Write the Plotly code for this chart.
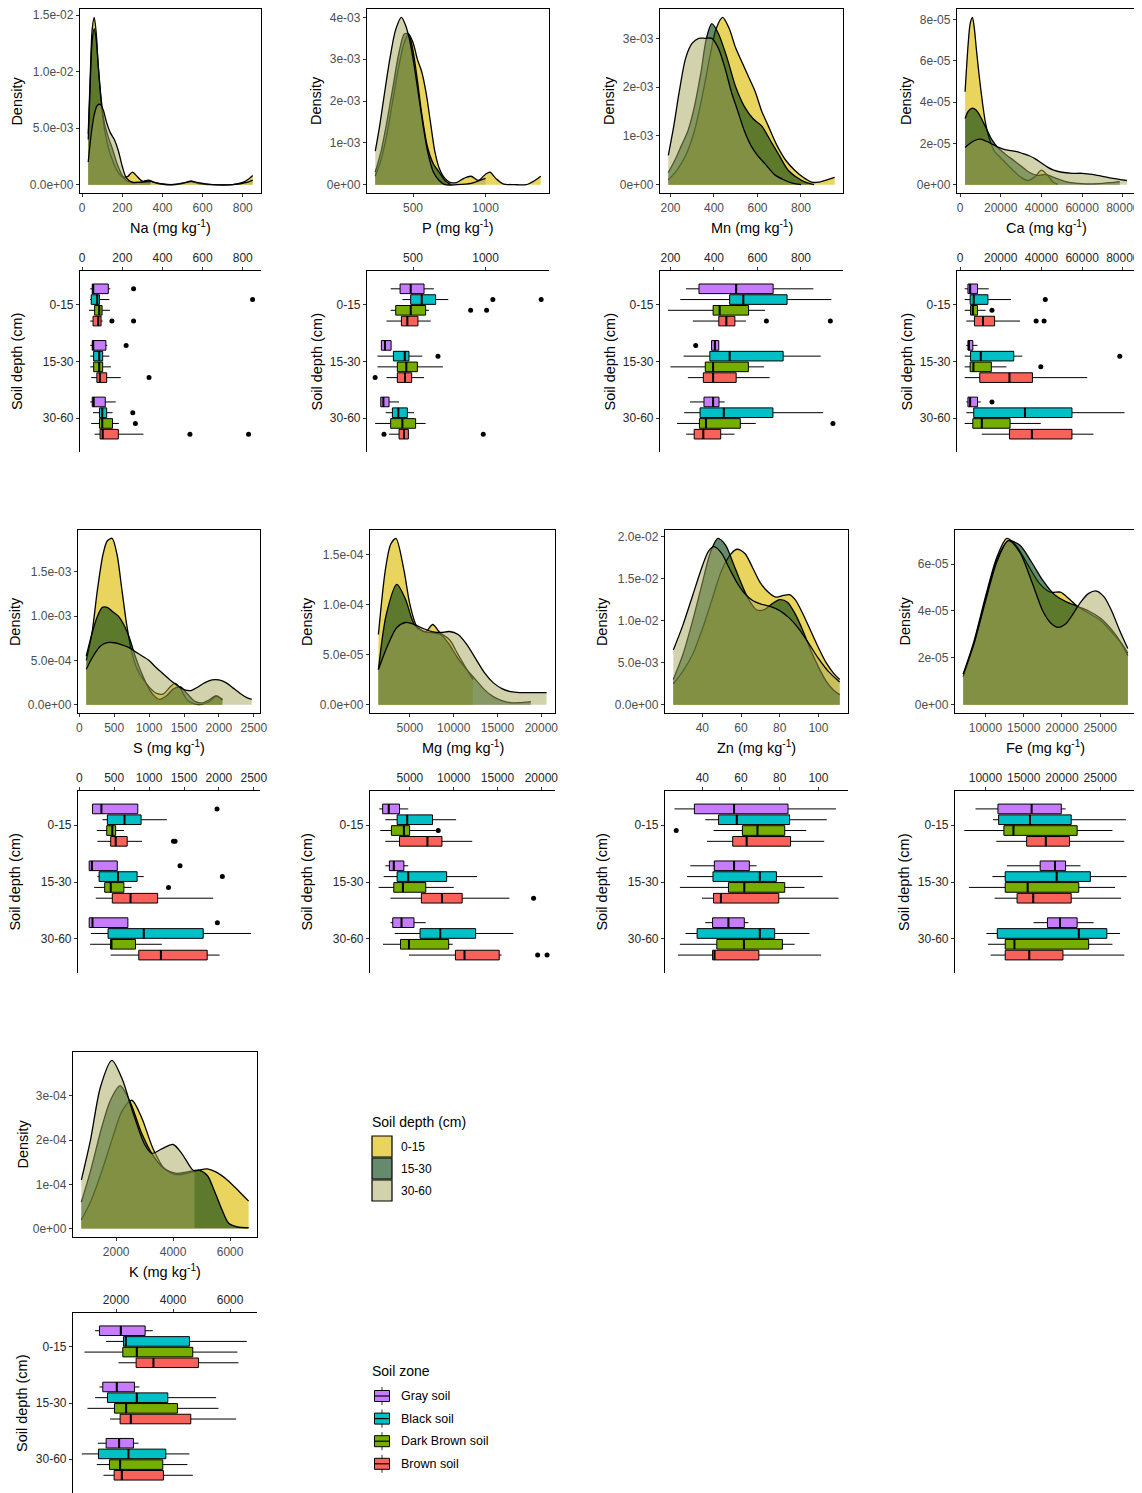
import plotly.graph_objects as go

W, H = 1142, 1493          # target picture size
PAGE_OFF = 8               # browser body margin around the plot div
FW, FH = W - PAGE_OFF, H - PAGE_OFF

DEPTHS = ["0-15", "15-30", "30-60"]
ZONES = ["Gray soil", "Black soil", "Dark Brown soil", "Brown soil"]
ELEMENTS = ["Na", "P", "Mn", "Ca", "S", "Mg", "Zn", "Fe", "K"]

# ---------------- density curves (x in mg/kg, y density) ----------------
na_d1_x = [30, 40, 50, 60, 70, 80, 95, 110, 130, 150, 175, 200, 225, 250, 275, 300, 330, 360, 420, 500, 540, 580, 650, 750, 800, 830, 850]
na_d1_y = [0.0045, 0.0096, 0.0138, 0.0148, 0.0134, 0.0105, 0.0072, 0.0050, 0.0033, 0.0022, 0.0012, 0.0007, 0.0007, 0.0011, 0.0007, 0.0003, 0.0004, 0.0002, 0.0, 0.0001, 0.0003, 0.0001, 0.0, 0.0, 0.0002, 0.0005, 0.0008]
na_d2_x = [30, 40, 50, 60, 70, 80, 95, 110, 130, 150, 175, 200, 225, 260, 300, 340]
na_d2_y = [0.0040, 0.0090, 0.0128, 0.0138, 0.0128, 0.0105, 0.0075, 0.0055, 0.0042, 0.0032, 0.0018, 0.0008, 0.0003, 0.0002, 0.0002, 0.0002]
na_d3_x = [30, 45, 60, 75, 90, 105, 120, 140, 160, 180, 200, 220, 250, 280, 320, 340, 380, 450, 520, 545, 570, 650, 750, 820, 850]
na_d3_y = [0.0020, 0.0045, 0.0062, 0.0070, 0.0071, 0.0066, 0.0056, 0.0046, 0.0040, 0.0030, 0.0016, 0.0006, 0.0002, 0.0002, 0.0003, 0.0003, 0.0001, 0.0, 0.0002, 0.0003, 0.0002, 0.0, 0.0, 0.0002, 0.0004]

p_d1_x = [240, 280, 320, 360, 400, 440, 470, 500, 530, 560, 590, 620, 650, 680, 720, 760, 800, 850, 900, 950, 1000, 1030, 1070, 1120, 1200, 1280, 1340, 1380]
p_d1_y = [0.0002, 0.0006, 0.0012, 0.0020, 0.0028, 0.0034, 0.0036, 0.0034, 0.0030, 0.0027, 0.0022, 0.0015, 0.0008, 0.0004, 0.00015, 0.00005, 0.00005, 0.00015, 0.0002, 0.0001, 0.00025, 0.0003, 0.00015, 0.00002, 0.0, 0.0, 0.0001, 0.0002]
p_d2_x = [240, 280, 320, 360, 400, 440, 470, 500, 530, 560, 600, 640, 680, 720, 760]
p_d2_y = [0.0003, 0.0008, 0.0015, 0.0023, 0.0031, 0.0036, 0.0036, 0.0032, 0.0025, 0.0017, 0.0009, 0.0005, 0.0003, 0.0001, 0.0]
p_d3_x = [240, 270, 300, 340, 380, 420, 450, 480, 510, 540, 570, 600, 640, 680, 720, 800, 900, 960, 1000]
p_d3_y = [0.0008, 0.0014, 0.0021, 0.0030, 0.0037, 0.0040, 0.0038, 0.0034, 0.0028, 0.0021, 0.0014, 0.0008, 0.0003, 0.0001, 0.0, 0.0, 0.00003, 0.0001, 0.00015]

mn_d1_x = [190, 230, 270, 310, 350, 380, 410, 440, 470, 500, 530, 560, 590, 620, 650, 690, 730, 770, 810, 850, 880, 920, 955]
mn_d1_y = [0.0001, 0.0003, 0.0006, 0.0011, 0.0019, 0.0026, 0.0032, 0.00343, 0.0032, 0.0028, 0.0025, 0.0022, 0.0019, 0.0015, 0.0012, 0.0008, 0.0005, 0.0003, 0.00015, 0.00005, 0.00005, 0.0001, 0.00015]
mn_d2_x = [190, 220, 250, 280, 310, 340, 365, 390, 420, 460, 500, 540, 580, 620, 660, 700, 740, 780, 820, 860]
mn_d2_y = [0.00025, 0.0005, 0.0008, 0.0011, 0.0016, 0.0023, 0.0030, 0.0033, 0.0031, 0.0026, 0.0020, 0.0016, 0.00135, 0.0012, 0.0009, 0.0006, 0.0003, 0.00015, 0.00005, 0.0]
mn_d3_x = [190, 215, 240, 270, 300, 330, 360, 390, 420, 450, 480, 510, 540, 570, 600, 640, 680, 720, 760, 800]
mn_d3_y = [0.0006, 0.0012, 0.0019, 0.0026, 0.0029, 0.0030, 0.0030, 0.0030, 0.0028, 0.0024, 0.0019, 0.0015, 0.0011, 0.0008, 0.0006, 0.0004, 0.0002, 0.0001, 0.00003, 0.0]

ca_d1_x = [2500, 4000, 5000, 6100, 7000, 8000, 9500, 11000, 12500, 14500, 17000, 19000, 22000, 26000, 30000, 33500, 37000, 40000, 43000, 46000, 48000]
ca_d1_y = [4.5e-5, 6.8e-5, 7.8e-5, 8.1e-5, 7.6e-5, 6.6e-5, 5.2e-5, 4.0e-5, 3.0e-5, 2.2e-5, 1.6e-5, 1.4e-5, 1.1e-5, 0.7e-5, 0.35e-5, 0.2e-5, 0.4e-5, 0.7e-5, 0.45e-5, 0.1e-5, 0.03e-5]
ca_d2_x = [2500, 4000, 6000, 8000, 10000, 12500, 15500, 18500, 22000, 26000, 30000, 34000, 38000, 42000, 46000, 52000, 60000, 68000, 74000, 78500]
ca_d2_y = [3.2e-5, 3.55e-5, 3.7e-5, 3.6e-5, 3.3e-5, 2.8e-5, 2.2e-5, 1.8e-5, 1.5e-5, 1.2e-5, 0.9e-5, 0.6e-5, 0.45e-5, 0.5e-5, 0.35e-5, 0.15e-5, 0.05e-5, 0.05e-5, 0.1e-5, 0.15e-5]
ca_d3_x = [2500, 5000, 7500, 10000, 13000, 16000, 19000, 22000, 25000, 28000, 31000, 34000, 37000, 40000, 43000, 46000, 50000, 55000, 60000, 65000, 70000, 75000, 82000]
ca_d3_y = [1.8e-5, 2.0e-5, 2.15e-5, 2.2e-5, 2.1e-5, 1.95e-5, 1.8e-5, 1.7e-5, 1.65e-5, 1.6e-5, 1.5e-5, 1.4e-5, 1.25e-5, 1.05e-5, 0.85e-5, 0.7e-5, 0.6e-5, 0.55e-5, 0.55e-5, 0.5e-5, 0.4e-5, 0.3e-5, 0.2e-5]

s_d1_x = [100, 180, 260, 340, 400, 470, 540, 610, 680, 750, 830, 920, 1000, 1100, 1200, 1300, 1370, 1450, 1550, 1700, 1850, 1970, 2050]
s_d1_y = [0.0005, 0.0008, 0.0013, 0.0017, 0.00185, 0.00188, 0.0017, 0.0013, 0.0009, 0.0006, 0.0004, 0.00028, 0.0002, 0.00013, 0.00012, 0.0002, 0.00024, 0.00018, 0.00005, 0.0, 0.00003, 0.0001, 0.00005]
s_d2_x = [100, 180, 260, 330, 400, 480, 560, 640, 720, 800, 880, 960, 1050, 1150, 1250, 1350, 1450, 1550, 1650, 1750, 1850, 1950, 2050]
s_d2_y = [0.00055, 0.0008, 0.001, 0.0011, 0.0011, 0.00105, 0.001, 0.0009, 0.00075, 0.00055, 0.00038, 0.00024, 0.00012, 0.00006, 0.0001, 0.00018, 0.0002, 0.00012, 0.00004, 0.00002, 0.00005, 0.0001, 0.00006]
s_d3_x = [100, 200, 300, 400, 500, 600, 700, 800, 900, 1000, 1100, 1200, 1300, 1400, 1500, 1600, 1700, 1800, 1900, 2000, 2100, 2200, 2300, 2400, 2470]
s_d3_y = [0.0004, 0.00055, 0.00066, 0.0007, 0.0007, 0.00068, 0.00065, 0.0006, 0.00055, 0.0005, 0.00042, 0.00035, 0.00028, 0.00022, 0.00017, 0.00016, 0.0002, 0.00025, 0.00028, 0.00028, 0.00025, 0.00019, 0.00013, 0.00008, 0.00006]

mg_d1_x = [1400, 2200, 2800, 3400, 4300, 5000, 5800, 6800, 7600, 8400, 9500, 10500, 11500, 12200]
mg_d1_y = [7e-5, 1.35e-4, 1.6e-4, 1.66e-4, 1.35e-4, 1.0e-4, 7.8e-5, 7.3e-5, 8.0e-5, 7.2e-5, 6.5e-5, 5.0e-5, 3.5e-5, 2.5e-5]
mg_d2_x = [1400, 2300, 3500, 4500, 5500, 6500, 7500, 8500, 9500, 10500, 11500, 12500, 13500, 14500, 15500, 16500, 17500, 18800]
mg_d2_y = [3.5e-5, 9e-5, 1.2e-4, 1.05e-4, 8e-5, 7.3e-5, 7.2e-5, 7e-5, 6e-5, 4.6e-5, 3.5e-5, 2.5e-5, 1.5e-5, 0.8e-5, 0.4e-5, 0.2e-5, 0.2e-5, 0.3e-5]
mg_d3_x = [1400, 2500, 3500, 4500, 5500, 6500, 7500, 8500, 9500, 10500, 11500, 12500, 13500, 14500, 15500, 16500, 17500, 18500, 19500, 20600]
mg_d3_y = [3.5e-5, 6e-5, 7.7e-5, 8.2e-5, 8e-5, 7.6e-5, 7.3e-5, 7.2e-5, 7.3e-5, 7e-5, 6e-5, 4.6e-5, 3.2e-5, 2.2e-5, 1.6e-5, 1.3e-5, 1.2e-5, 1.2e-5, 1.2e-5, 1.2e-5]

zn_d1_x = [25, 30, 35, 40, 45, 50, 55, 58, 62, 66, 70, 74, 78, 82, 85, 88, 92, 96, 100, 104, 108, 111]
zn_d1_y = [0.0025, 0.0040, 0.0060, 0.0090, 0.0125, 0.0160, 0.0180, 0.0185, 0.0180, 0.0163, 0.0145, 0.0134, 0.0128, 0.0130, 0.0131, 0.0125, 0.0108, 0.0088, 0.0068, 0.0050, 0.0037, 0.0030]
zn_d2_x = [25, 30, 35, 40, 44, 48, 52, 56, 60, 64, 68, 72, 76, 80, 84, 88, 92, 96, 100, 104, 108, 111]
zn_d2_y = [0.0030, 0.0060, 0.0100, 0.0145, 0.0180, 0.0198, 0.0190, 0.0168, 0.0145, 0.0125, 0.0113, 0.0113, 0.0120, 0.0125, 0.0122, 0.0108, 0.0088, 0.0065, 0.0045, 0.0028, 0.0017, 0.0012]
zn_d3_x = [25, 30, 35, 40, 43, 46, 50, 54, 58, 62, 66, 70, 75, 80, 85, 90, 95, 100, 105, 111]
zn_d3_y = [0.0065, 0.0095, 0.0130, 0.0165, 0.0182, 0.0188, 0.0180, 0.0162, 0.0145, 0.0132, 0.0124, 0.0120, 0.0117, 0.0112, 0.0103, 0.0090, 0.0073, 0.0055, 0.0040, 0.0027]

fe_d1_x = [7100, 8500, 10000, 11500, 12800, 14000, 15500, 17000, 18500, 19800, 21000, 22000, 23500, 25000, 26500, 27800, 28600]
fe_d1_y = [1.3e-5, 2.7e-5, 4.6e-5, 6.3e-5, 7.1e-5, 6.8e-5, 6.0e-5, 5.2e-5, 4.8e-5, 4.8e-5, 4.5e-5, 4.2e-5, 3.9e-5, 3.6e-5, 3.1e-5, 2.6e-5, 2.2e-5]
fe_d2_x = [7100, 8500, 10000, 11500, 13000, 14500, 16000, 17500, 19000, 20500, 22000, 23500, 25000, 26500, 27800, 28600]
fe_d2_y = [1.2e-5, 2.6e-5, 4.5e-5, 6.2e-5, 7.0e-5, 6.8e-5, 6.1e-5, 5.3e-5, 4.7e-5, 4.4e-5, 4.2e-5, 4.0e-5, 3.7e-5, 3.2e-5, 2.6e-5, 2.1e-5]
fe_d3_x = [7100, 8500, 10000, 11500, 13000, 14500, 16000, 17500, 18500, 19500, 20500, 21500, 22500, 23500, 24500, 25500, 26500, 27500, 28600]
fe_d3_y = [1.3e-5, 2.6e-5, 4.4e-5, 6.1e-5, 7.0e-5, 6.5e-5, 5.3e-5, 4.0e-5, 3.5e-5, 3.3e-5, 3.45e-5, 3.9e-5, 4.4e-5, 4.75e-5, 4.85e-5, 4.6e-5, 4.0e-5, 3.2e-5, 2.4e-5]

k_d1_x = [780, 1100, 1500, 1900, 2200, 2550, 2900, 3300, 3700, 4100, 4500, 4900, 5200, 5500, 5900, 6300, 6650]
k_d1_y = [0.2e-4, 0.6e-4, 1.3e-4, 2.1e-4, 2.65e-4, 2.9e-4, 2.5e-4, 1.8e-4, 1.35e-4, 1.22e-4, 1.25e-4, 1.32e-4, 1.35e-4, 1.28e-4, 1.1e-4, 0.85e-4, 0.62e-4]
k_d2_x = [780, 1100, 1500, 1800, 2140, 2500, 2900, 3300, 3700, 4100, 4500, 4900, 5200, 5450, 5700, 5950, 6300, 6650]
k_d2_y = [0.6e-4, 1.3e-4, 2.3e-4, 2.9e-4, 3.23e-4, 2.85e-4, 2.15e-4, 1.65e-4, 1.35e-4, 1.25e-4, 1.28e-4, 1.32e-4, 1.2e-4, 0.85e-4, 0.45e-4, 0.12e-4, 0.03e-4, 0.02e-4]
k_d3_x = [780, 1100, 1450, 1850, 2200, 2600, 3000, 3250, 3600, 4000, 4300, 4650, 4750]
k_d3_y = [1.1e-4, 2.0e-4, 3.2e-4, 3.8e-4, 3.4e-4, 2.6e-4, 1.9e-4, 1.7e-4, 1.8e-4, 1.9e-4, 1.7e-4, 1.35e-4, 1.3e-4]

# ---------------- boxplot statistics: (lower whisker, q1, median, q3, upper whisker) per depth ----------------
na_gray = [(40, 50, 55, 130, 140), (40, 50, 55, 118, 125), (40, 50, 57, 115, 167)]
na_black = [(40, 45, 75, 86, 135), (40, 57, 85, 102, 135), (54, 86, 100, 122, 151)]
na_dkbrown = [(34, 62, 85, 99, 138), (40, 57, 85, 102, 143), (45, 86, 100, 151, 183)]
na_brown = [(40, 54, 80, 94, 102), (45, 73, 88, 122, 192), (62, 89, 102, 180, 305)]
na_out = [("0-15", "Gray soil", 256), ("0-15", "Black soil", 849), ("0-15", "Brown soil", 148), ("0-15", "Brown soil", 256),
          ("15-30", "Gray soil", 219), ("15-30", "Brown soil", 333), ("30-60", "Black soil", 252),
          ("30-60", "Dark Brown soil", 265), ("30-60", "Brown soil", 537), ("30-60", "Brown soil", 829)]

p_gray = [(346, 411, 484, 576, 644), (282, 282, 307, 349, 349), (278, 278, 296, 335, 404)]
p_black = [(427, 484, 560, 656, 743), (255, 365, 443, 472, 564), (312, 358, 399, 461, 507)]
p_dkbrown = [(346, 381, 484, 587, 610), (255, 392, 454, 530, 706), (239, 346, 427, 518, 587)]
p_brown = [(317, 420, 461, 534, 622), (317, 392, 445, 491, 576), (335, 404, 438, 468, 472)]
p_out = [("0-15", "Black soil", 1050), ("0-15", "Black soil", 1383), ("0-15", "Dark Brown soil", 897), ("0-15", "Dark Brown soil", 1007),
         ("15-30", "Black soil", 672), ("15-30", "Brown soil", 239), ("30-60", "Brown soil", 300), ("30-60", "Brown soil", 984)]

mn_gray = [(271, 331, 502, 672, 857), (389, 389, 404, 422, 422), (290, 354, 396, 423, 449)]
mn_black = [(245, 472, 535, 736, 940), (260, 381, 472, 718, 891), (263, 336, 445, 671, 902)]
mn_dkbrown = [(188, 396, 426, 559, 635), (200, 360, 396, 558, 630), (230, 333, 363, 521, 592)]
mn_brown = [(303, 422, 457, 496, 547), (280, 351, 396, 502, 656), (272, 309, 351, 431, 494)]
mn_out = [("0-15", "Brown soil", 641), ("0-15", "Brown soil", 935), ("15-30", "Gray soil", 316), ("30-60", "Dark Brown soil", 947)]

ca_gray = [(2300, 3900, 5000, 8600, 14100), (3100, 3900, 4400, 6300, 8600), (3100, 3900, 5000, 8600, 10200)]
ca_black = [(2300, 5000, 6750, 13700, 25100), (2300, 5200, 10200, 26400, 30600), (3100, 6750, 31900, 55000, 80800)]
ca_dkbrown = [(2300, 5200, 6300, 8600, 12600), (2300, 5000, 6600, 15400, 22800), (2300, 6300, 10700, 24600, 39700)]
ca_brown = [(3100, 7100, 11300, 17000, 29500), (2300, 9700, 24300, 35600, 62500), (10700, 24300, 35300, 55000, 65600)]
ca_out = [("0-15", "Black soil", 41900), ("0-15", "Dark Brown soil", 15700), ("0-15", "Brown soil", 37400), ("0-15", "Brown soil", 41300),
          ("15-30", "Black soil", 78500), ("15-30", "Dark Brown soil", 39700), ("30-60", "Gray soil", 15700)]

s_gray = [(190, 190, 317, 838, 838), (142, 142, 180, 544, 544), (142, 142, 189, 696, 696)]
s_black = [(331, 402, 648, 885, 1254), (260, 284, 554, 828, 923), (166, 412, 923, 1775, 2461)]
s_dkbrown = [(251, 393, 473, 521, 639), (213, 364, 450, 639, 748), (156, 450, 459, 805, 1183)]
s_brown = [(260, 450, 521, 686, 899), (237, 473, 734, 1122, 1917), (450, 852, 1169, 1832, 2011)]
s_out = [("0-15", "Gray soil", 1973), ("0-15", "Brown soil", 1349), ("0-15", "Brown soil", 1372), ("15-30", "Gray soil", 1443),
         ("15-30", "Black soil", 2049), ("15-30", "Dark Brown soil", 1278), ("30-60", "Gray soil", 1978)]

mg_gray = [(1500, 1885, 2577, 3808, 4808), (2192, 2654, 3154, 4308, 4808), (2769, 3038, 4038, 5462, 6808)]
mg_black = [(2192, 3538, 4692, 7577, 10270), (2000, 3538, 4808, 9192, 12654), (3269, 6154, 8462, 12500, 16808)]
mg_dkbrown = [(1615, 2885, 4308, 4962, 7962), (1423, 3154, 4192, 6808, 10000), (1923, 3923, 4885, 9423, 9885)]
mg_brown = [(2192, 3808, 7000, 8654, 12115), (2769, 6308, 8654, 10962, 16346), (4885, 10192, 11231, 15192, 15462)]
mg_out = [("0-15", "Dark Brown soil", 8230), ("15-30", "Brown soil", 19115), ("30-60", "Brown soil", 19577), ("30-60", "Brown soil", 20654)]

zn_gray = [(25.6, 35.9, 56.4, 84.3, 109.1), (33.8, 46.2, 56.4, 64.3, 68.0), (41.5, 45.3, 53.5, 61.7, 63.8)]
zn_black = [(41.5, 48.4, 57.8, 85.1, 104.3), (32.1, 45.5, 69.7, 78.3, 102.2), (31.3, 37.3, 69.7, 77.4, 95.4)]
zn_dkbrown = [(45.8, 60.7, 68.5, 82.6, 93.7), (28.4, 53.5, 61.7, 82.6, 92.8), (28.4, 47.5, 61.5, 81.4, 87.7)]
zn_brown = [(42.4, 55.7, 62.9, 85.6, 103.0), (39.8, 45.8, 49.6, 79.5, 110.4), (27.4, 45.3, 46.3, 69.2, 101.4)]
zn_out = [("0-15", "Dark Brown soil", 26.5)]

fe_gray = [(8707, 11638, 16034, 19914, 20474), (12802, 17155, 19095, 20474, 22414), (16293, 18103, 19741, 21983, 24138)]
fe_black = [(10991, 11724, 15819, 21207, 28362), (10905, 12586, 19310, 23707, 28448), (10129, 11552, 22198, 25862, 27586)]
fe_dkbrown = [(7241, 12414, 13664, 21983, 26595), (7845, 12586, 15517, 22198, 26940), (10345, 12586, 13793, 23491, 26595)]
fe_brown = [(11422, 15388, 17888, 20991, 28147), (11207, 14138, 16250, 21207, 27716), (10690, 12586, 15733, 20129, 28147)]
fe_out = []

k_gray = [(1263, 1415, 2164, 3018, 3287), (1415, 1532, 2023, 2643, 2819), (1357, 1649, 2105, 2608, 2784)]
k_black = [(1649, 2257, 2339, 4573, 6585), (1263, 1696, 2725, 3813, 5509), (795, 1380, 2433, 3743, 4573)]
k_dkbrown = [(889, 2234, 2725, 4690, 6257), (994, 1942, 2351, 4152, 5591), (1322, 1766, 2140, 3637, 4503)]
k_brown = [(2082, 2702, 3310, 4889, 6292), (1789, 2140, 2515, 4620, 6211), (1556, 1930, 2199, 3661, 4690)]
k_out = []

# ---------------- tick labels ----------------
na_xticks = [0, 200, 400, 600, 800]
p_xticks = [500, 1000]
mn_xticks = [200, 400, 600, 800]
ca_xticks = [0, 20000, 40000, 60000, 80000]
s_xticks = [0, 500, 1000, 1500, 2000, 2500]
mg_xticks = [5000, 10000, 15000, 20000]
zn_xticks = [40, 60, 80, 100]
fe_xticks = [10000, 15000, 20000, 25000]
k_xticks = [2000, 4000, 6000]

na_yticks = ([0, 0.005, 0.01, 0.015], ["0.0e+00", "5.0e-03", "1.0e-02", "1.5e-02"])
p_yticks = ([0, 0.001, 0.002, 0.003, 0.004], ["0e+00", "1e-03", "2e-03", "3e-03", "4e-03"])
mn_yticks = ([0, 0.001, 0.002, 0.003], ["0e+00", "1e-03", "2e-03", "3e-03"])
ca_yticks = ([0, 2e-5, 4e-5, 6e-5, 8e-5], ["0e+00", "2e-05", "4e-05", "6e-05", "8e-05"])
s_yticks = ([0, 5e-4, 1e-3, 1.5e-3], ["0.0e+00", "5.0e-04", "1.0e-03", "1.5e-03"])
mg_yticks = ([0, 5e-5, 1e-4, 1.5e-4], ["0.0e+00", "5.0e-05", "1.0e-04", "1.5e-04"])
zn_yticks = ([0, 0.005, 0.01, 0.015, 0.02], ["0.0e+00", "5.0e-03", "1.0e-02", "1.5e-02", "2.0e-02"])
fe_yticks = ([0, 2e-5, 4e-5, 6e-5], ["0e+00", "2e-05", "4e-05", "6e-05"])
k_yticks = ([0, 1e-4, 2e-4, 3e-4], ["0e+00", "1e-04", "2e-04", "3e-04"])

DENSITY = {
    "Na": [(na_d1_x, na_d1_y), (na_d2_x, na_d2_y), (na_d3_x, na_d3_y)],
    "P": [(p_d1_x, p_d1_y), (p_d2_x, p_d2_y), (p_d3_x, p_d3_y)],
    "Mn": [(mn_d1_x, mn_d1_y), (mn_d2_x, mn_d2_y), (mn_d3_x, mn_d3_y)],
    "Ca": [(ca_d1_x, ca_d1_y), (ca_d2_x, ca_d2_y), (ca_d3_x, ca_d3_y)],
    "S": [(s_d1_x, s_d1_y), (s_d2_x, s_d2_y), (s_d3_x, s_d3_y)],
    "Mg": [(mg_d1_x, mg_d1_y), (mg_d2_x, mg_d2_y), (mg_d3_x, mg_d3_y)],
    "Zn": [(zn_d1_x, zn_d1_y), (zn_d2_x, zn_d2_y), (zn_d3_x, zn_d3_y)],
    "Fe": [(fe_d1_x, fe_d1_y), (fe_d2_x, fe_d2_y), (fe_d3_x, fe_d3_y)],
    "K": [(k_d1_x, k_d1_y), (k_d2_x, k_d2_y), (k_d3_x, k_d3_y)],
}
BOXES = {
    "Na": [na_gray, na_black, na_dkbrown, na_brown], "P": [p_gray, p_black, p_dkbrown, p_brown],
    "Mn": [mn_gray, mn_black, mn_dkbrown, mn_brown], "Ca": [ca_gray, ca_black, ca_dkbrown, ca_brown],
    "S": [s_gray, s_black, s_dkbrown, s_brown], "Mg": [mg_gray, mg_black, mg_dkbrown, mg_brown],
    "Zn": [zn_gray, zn_black, zn_dkbrown, zn_brown], "Fe": [fe_gray, fe_black, fe_dkbrown, fe_brown],
    "K": [k_gray, k_black, k_dkbrown, k_brown],
}
OUTLIERS = {"Na": na_out, "P": p_out, "Mn": mn_out, "Ca": ca_out, "S": s_out, "Mg": mg_out, "Zn": zn_out, "Fe": fe_out, "K": k_out}
XTICKS = {"Na": na_xticks, "P": p_xticks, "Mn": mn_xticks, "Ca": ca_xticks, "S": s_xticks, "Mg": mg_xticks, "Zn": zn_xticks, "Fe": fe_xticks, "K": k_xticks}
YTICKS = {"Na": na_yticks, "P": p_yticks, "Mn": mn_yticks, "Ca": ca_yticks, "S": s_yticks, "Mg": mg_yticks, "Zn": zn_yticks, "Fe": fe_yticks, "K": k_yticks}

# ---------------- styling / layout ----------------
DEPTH_FILL = {"0-15": "rgba(225,198,40,0.75)", "15-30": "rgba(0,60,10,0.6)", "30-60": "rgba(165,168,90,0.5)"}
ZONE_COLOR = {"Gray soil": "#C77CFF", "Black soil": "#00C0C6", "Dark Brown soil": "#76AE00", "Brown soil": "#F8625A"}
FONT = "Liberation Sans, Arial, sans-serif"
TICK_GREY = "#4D4D4D"
TICK_SIZE = 12
TITLE_SIZE = 14.5

# panel pixel geometry in the picture: left, right, density top, density bottom, box top, box bottom
PANELS = {
    "Na": (80, 261, 9, 193, 271, 452), "P": (367, 549, 9, 193, 271, 452),
    "Mn": (660, 843, 9, 193, 271, 452), "Ca": (957, 1135, 9, 193, 271, 452),
    "S": (78, 260, 530, 713, 791, 973), "Mg": (370, 555, 530, 713, 791, 973),
    "Zn": (665, 848, 530, 713, 791, 973), "Fe": (955, 1136, 530, 713, 791, 973),
    "K": (73, 257, 1052, 1237, 1313, 1493),
}
BOX_PITCH = 0.19
BOX_W = 0.17


def fx(px):
    return min(1.0, max(0.0, (px - PAGE_OFF) / FW))


def fy(py):
    return min(1.0, max(0.0, 1 - (py - PAGE_OFF) / FH))


fig = go.Figure()
layout = dict(width=FW, height=FH, autosize=False, margin=dict(l=0, r=0, t=0, b=0, autoexpand=False),
              paper_bgcolor="white", plot_bgcolor="white", showlegend=False,
              font=dict(family=FONT, size=11, color="black"), boxmode="overlay")
annotations = []
shapes = []

for i, el in enumerate(ELEMENTS):
    l, r, dt, db, bt, bb = PANELS[el]
    nd, nb = 2 * i + 1, 2 * i + 2
    xd, yd = f"x{nd}", f"y{nd}"
    xb, yb = f"x{nb}", f"y{nb}"

    allx = [v for cx, _ in DENSITY[el] for v in cx]
    ally = [v for _, cy in DENSITY[el] for v in cy]
    lo, hi = min(allx), max(allx)
    xr = [lo - 0.05 * (hi - lo), hi + 0.05 * (hi - lo)]
    ymax = max(ally)
    yr = [-0.05 * ymax, 1.05 * ymax]
    xt = XTICKS[el]
    ytv, ytt = YTICKS[el]

    axis_common = dict(showgrid=False, zeroline=False, showline=True, linecolor="black", automargin=False,
                       ticks="outside", ticklen=3, tickwidth=1, tickcolor="#333333", ticklabeloverflow="allow")
    layout[f"xaxis{nd}"] = dict(domain=[fx(l), fx(r)], anchor=yd, range=xr, mirror=True, linewidth=1.3,
                                tickvals=xt, ticktext=[str(v) for v in xt],
                                tickfont=dict(size=TICK_SIZE, color=TICK_GREY, family=FONT), **axis_common)
    layout[f"yaxis{nd}"] = dict(domain=[fy(db), fy(dt)], anchor=xd, range=yr, mirror=True, linewidth=1.3,
                                tickvals=ytv, ticktext=ytt,
                                tickfont=dict(size=TICK_SIZE, color=TICK_GREY, family=FONT), **axis_common)
    layout[f"xaxis{nb}"] = dict(domain=[fx(l), fx(r)], anchor=yb, range=xr, side="top", linewidth=1.2,
                                tickvals=xt, ticktext=[str(v) for v in xt],
                                tickfont=dict(size=TICK_SIZE, color="#262626", family=FONT), **axis_common)
    layout[f"yaxis{nb}"] = dict(domain=[fy(bb), fy(bt)], anchor=xb, range=[2.6, -0.6], linewidth=1.2,
                                tickvals=[0, 1, 2], ticktext=DEPTHS,
                                tickfont=dict(size=TICK_SIZE, color="#262626", family=FONT), **axis_common)

    # density layers
    for d, (cx, cy) in zip(DEPTHS, DENSITY[el]):
        fig.add_trace(go.Scatter(x=cx, y=cy, mode="lines", fill="tozeroy", fillcolor=DEPTH_FILL[d],
                                 line=dict(color="black", width=1.3, shape="spline", smoothing=0.8),
                                 xaxis=xd, yaxis=yd, hoverinfo="skip", name=d))

    # boxplots
    med_x, med_y = [], []
    for zi, zone in enumerate(ZONES):
        stats = BOXES[el][zi]
        pos = [di + (zi - 1.5) * BOX_PITCH for di in range(len(DEPTHS))]
        fig.add_trace(go.Box(orientation="h", y=pos,
                             lowerfence=[s[0] for s in stats], q1=[s[1] for s in stats],
                             median=[s[2] for s in stats], q3=[s[3] for s in stats],
                             upperfence=[s[4] for s in stats],
                             width=BOX_W, whiskerwidth=0, fillcolor=ZONE_COLOR[zone],
                             line=dict(color="black", width=1), boxpoints=False,
                             xaxis=xb, yaxis=yb, hoverinfo="skip", name=zone))
        for s, p in zip(stats, pos):
            med_x += [s[2], s[2], None]
            med_y += [p - BOX_W / 2, p + BOX_W / 2, None]
    # thicker median bars (ggplot style)
    fig.add_trace(go.Scatter(x=med_x, y=med_y, mode="lines", line=dict(color="black", width=2),
                             xaxis=xb, yaxis=yb, hoverinfo="skip"))
    outs = OUTLIERS[el]
    if outs:
        fig.add_trace(go.Scatter(x=[o[2] for o in outs],
                                 y=[DEPTHS.index(o[0]) + (ZONES.index(o[1]) - 1.5) * BOX_PITCH for o in outs],
                                 mode="markers", marker=dict(color="black", size=5),
                                 xaxis=xb, yaxis=yb, hoverinfo="skip"))

    # axis titles
    off = 20 + 6.2 * max(len(t) for t in ytt)
    annotations.append(dict(text="Density", x=fx(l - off), y=fy((dt + db) / 2), xref="paper", yref="paper",
                            textangle=-90, showarrow=False, font=dict(size=TITLE_SIZE, color="black", family=FONT),
                            xanchor="center", yanchor="middle"))
    annotations.append(dict(text="Soil depth (cm)", x=fx(l - off), y=fy((bt + min(bb, H)) / 2), xref="paper", yref="paper",
                            textangle=-90, showarrow=False, font=dict(size=TITLE_SIZE, color="black", family=FONT),
                            xanchor="center", yanchor="middle"))
    annotations.append(dict(text=f"{el} (mg kg<sup>-1</sup>)", x=fx((l + r) / 2), y=fy(db + 34), xref="paper", yref="paper",
                            showarrow=False, font=dict(size=TITLE_SIZE, color="black", family=FONT),
                            xanchor="center", yanchor="middle"))

# ---------------- legends (drawn) ----------------
annotations.append(dict(text="Soil depth (cm)", x=fx(370), y=fy(1122), xref="paper", yref="paper", showarrow=False,
                        xanchor="left", yanchor="middle", font=dict(size=14, color="black", family=FONT)))
for k, d in enumerate(DEPTHS):
    top = 1136 + 22 * k
    shapes.append(dict(type="rect", xref="paper", yref="paper", x0=fx(372), x1=fx(392), y0=fy(top + 21), y1=fy(top),
                       fillcolor=DEPTH_FILL[d], line=dict(color="black", width=1.2)))
    annotations.append(dict(text=d, x=fx(399), y=fy(top + 10.5), xref="paper", yref="paper", showarrow=False,
                            xanchor="left", yanchor="middle", font=dict(size=12, color="black", family=FONT)))

annotations.append(dict(text="Soil zone", x=fx(370), y=fy(1371), xref="paper", yref="paper", showarrow=False,
                        xanchor="left", yanchor="middle", font=dict(size=14, color="black", family=FONT)))
for k, z in enumerate(ZONES):
    cy = 1396 + 22.6 * k
    shapes.append(dict(type="line", xref="paper", yref="paper", x0=fx(382), x1=fx(382), y0=fy(cy + 9), y1=fy(cy - 9),
                       line=dict(color="#333333", width=1)))
    shapes.append(dict(type="rect", xref="paper", yref="paper", x0=fx(374.5), x1=fx(389.5), y0=fy(cy + 5.5), y1=fy(cy - 5.5),
                       fillcolor=ZONE_COLOR[z], line=dict(color="black", width=1)))
    shapes.append(dict(type="line", xref="paper", yref="paper", x0=fx(374.5), x1=fx(389.5), y0=fy(cy), y1=fy(cy),
                       line=dict(color="black", width=1.2)))
    annotations.append(dict(text=z, x=fx(399), y=fy(cy), xref="paper", yref="paper", showarrow=False,
                            xanchor="left", yanchor="middle", font=dict(size=12.5, color="black", family=FONT)))

layout["annotations"] = annotations
layout["shapes"] = shapes
fig.update_layout(**layout)
fig.write_html("out.html", config={"displayModeBar": False})
